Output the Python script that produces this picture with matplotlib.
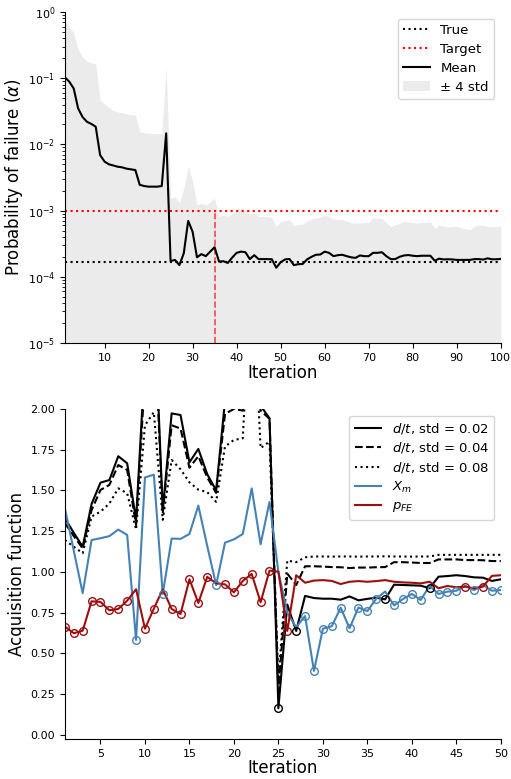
import numpy as np
import matplotlib
matplotlib.use("Agg")
import matplotlib.pyplot as plt

# ---- top panel data (probability of failure) ----
pf_true = 1.7e-4
pf_target = 1e-3
target_iter = 35
pf_mean = [0.103, 0.0885, 0.070, 0.035, 0.026, 0.022, 0.0204, 0.0185, 0.0069, 0.0055,
           0.005, 0.0048, 0.0046, 0.0045, 0.0043, 0.0042, 0.0041, 0.00245, 0.00235, 0.0023,
           0.0023, 0.0023, 0.00235, 0.0147, 1.73e-4, 1.8e-4, 1.5e-4, 2.26e-4, 7.0e-4, 4.8e-4,
           1.97e-4, 2.2e-4, 2.05e-4, 2.4e-4, 2.8e-4, 1.7e-4, 1.72e-4, 1.62e-4, 1.95e-4, 2.3e-4,
           2.4e-4, 2.35e-4, 1.85e-4, 2.12e-4, 1.85e-4, 1.85e-4, 1.85e-4, 1.84e-4, 1.37e-4, 1.66e-4,
           1.83e-4, 1.86e-4, 1.5e-4, 1.55e-4, 1.56e-4, 1.83e-4, 2.0e-4, 2.15e-4, 2.17e-4, 2.4e-4,
           2.3e-4, 2.05e-4, 2.12e-4, 2.15e-4, 2.05e-4, 1.97e-4, 1.93e-4, 2.1e-4, 2.05e-4, 2.05e-4,
           2.3e-4, 2.3e-4, 2.35e-4, 2.05e-4, 1.85e-4, 1.85e-4, 2.0e-4, 2.1e-4, 2.13e-4, 2.08e-4,
           2.05e-4, 2.08e-4, 2.08e-4, 2.08e-4, 1.75e-4, 1.88e-4, 1.83e-4, 1.84e-4, 1.83e-4, 1.8e-4,
           1.8e-4, 1.8e-4, 1.8e-4, 1.85e-4, 1.85e-4, 1.82e-4, 1.9e-4, 1.84e-4, 1.84e-4, 1.86e-4]
pf_upper = [0.76, 0.6, 0.48, 0.27, 0.21, 0.18, 0.17, 0.164, 0.047, 0.041,
            0.036, 0.032, 0.031, 0.030, 0.029, 0.028, 0.0278, 0.0156, 0.015, 0.0148,
            0.0146, 0.0145, 0.0145, 0.149, 1.53e-3, 1.62e-3, 1.3e-3, 2.17e-3, 4.7e-3, 2.75e-3,
            1.22e-3, 1.3e-3, 1.22e-3, 1.35e-3, 1.53e-3, 8.1e-4, 8.5e-4, 8.2e-4, 9e-4, 1.05e-3,
            1.08e-3, 1.0e-3, 8.8e-4, 9.3e-4, 8.1e-4, 8.1e-4, 8.1e-4, 7.8e-4, 5.7e-4, 6.9e-4,
            7.0e-4, 7.3e-4, 6.0e-4, 6.1e-4, 6.3e-4, 7.0e-4, 7.4e-4, 7.7e-4, 7.9e-4, 8.6e-4,
            8.1e-4, 7.4e-4, 7.4e-4, 7.3e-4, 7.0e-4, 6.6e-4, 6.4e-4, 6.5e-4, 6.6e-4, 6.6e-4,
            7.9e-4, 7.6e-4, 7.6e-4, 6.6e-4, 5.7e-4, 6.1e-4, 6.4e-4, 6.8e-4, 6.7e-4, 6.6e-4,
            6.5e-4, 6.6e-4, 6.6e-4, 6.8e-4, 5.4e-4, 6.0e-4, 5.8e-4, 5.6e-4, 5.8e-4, 5.8e-4,
            5.5e-4, 5.3e-4, 5.1e-4, 5.8e-4, 6.0e-4, 6.0e-4, 5.8e-4, 5.7e-4, 5.8e-4, 5.9e-4]
pf_lower = 1e-6  # band lower edge lies below the axis

# ---- bottom panel data (acquisition function) ----
acq_std02 = [1.33, 1.24, 1.155, 1.417, 1.548, 1.564, 1.71, 1.667, 1.32, 2.3,
             2.7, 1.38, 1.973, 1.963, 1.673, 1.755, 1.60, 1.50, 2.05, 2.3,
             2.5, 2.8, 2.02, 1.943, 0.164, 0.80, 0.638, 0.853, 0.84, 0.836,
             0.836, 0.83, 0.85, 0.826, 0.835, 0.842, 0.832, 0.922, 0.92, 0.918,
             0.916, 0.90, 0.971, 0.975, 0.98, 0.975, 0.967, 0.965, 0.945, 0.955]
acq_std04 = [1.30, 1.22, 1.145, 1.38, 1.503, 1.534, 1.656, 1.626, 1.288, 2.2,
             2.6, 1.36, 1.90, 1.88, 1.64, 1.71, 1.58, 1.485, 1.97, 2.0,
             1.99, 2.5, 1.99, 1.94, 0.27, 0.99, 0.92, 1.035, 1.035, 1.033,
             1.030, 1.029, 1.024, 1.027, 1.027, 1.029, 1.03, 1.06, 1.06, 1.058,
             1.055, 1.055, 1.077, 1.077, 1.077, 1.073, 1.073, 1.072, 1.067, 1.067]
acq_std08 = [1.196, 1.155, 1.115, 1.34, 1.37, 1.42, 1.513, 1.483, 1.26, 1.90,
             1.98, 1.32, 1.687, 1.63, 1.55, 1.505, 1.49, 1.43, 1.77, 1.81,
             1.82, 2.9, 1.76, 1.80, 0.34, 1.07, 1.06, 1.09, 1.095, 1.095,
             1.094, 1.095, 1.095, 1.094, 1.095, 1.095, 1.096, 1.095, 1.095, 1.094,
             1.095, 1.095, 1.105, 1.105, 1.105, 1.105, 1.105, 1.105, 1.105, 1.105]
acq_xm = [1.39, 1.13, 0.87, 1.196, 1.207, 1.22, 1.26, 1.227, 0.583, 1.58,
          1.597, 0.865, 1.205, 1.203, 1.233, 1.407, 1.16, 0.92, 1.18, 1.20,
          1.233, 1.513, 1.17, 1.43, 1.0, 0.75, 0.66, 0.73, 0.393, 0.652,
          0.667, 0.781, 0.655, 0.782, 0.76, 0.836, 0.88, 0.795, 0.834, 0.865,
          0.828, 0.915, 0.865, 0.879, 0.885, 0.915, 0.889, 0.92, 0.885, 0.889]
acq_pfe = [0.665, 0.624, 0.64, 0.82, 0.816, 0.765, 0.773, 0.824, 0.894, 0.652,
           0.775, 0.894, 0.773, 0.742, 0.955, 0.81, 0.97, 0.93, 0.924, 0.875,
           0.945, 0.988, 0.814, 1.008, 1.002, 0.638, 0.98, 0.934, 0.947, 0.95,
           0.945, 0.926, 0.94, 0.944, 0.94, 0.944, 0.95, 0.94, 0.936, 0.934,
           0.93, 0.94, 0.90, 0.914, 0.906, 0.91, 0.90, 0.91, 0.976, 0.98]

c_blue = "#4682b4"
c_red = "#9e0e0e"

fig = plt.figure(figsize=(5.11, 7.79), dpi=100)
ax1 = fig.add_axes([0.127, 0.5597, 0.853, 0.4249])
ax2 = fig.add_axes([0.127, 0.0513, 0.853, 0.4237])

# ---- top ----
it1 = np.arange(1, len(pf_mean) + 1)
band = ax1.fill_between(it1, pf_lower, pf_upper, color="#ebebeb", lw=0, label="\u00b1 4 std")
l_true = ax1.axhline(pf_true, color="black", ls=":", lw=1.5, label="True")
l_target = ax1.axhline(pf_target, color="red", ls=":", lw=1.5, label="Target")
ax1.plot([target_iter, target_iter], [1e-5, pf_target], color="red", alpha=0.7, ls="--", lw=1.2)
l_mean, = ax1.plot(it1, pf_mean, color="black", lw=1.5, label="Mean")
ax1.set_yscale("log")
ax1.set_xlim(1, 100)
ax1.set_ylim(1e-5, 1e0)
ax1.set_xticks(np.arange(10, 101, 10))
ax1.set_xlabel("Iteration", fontsize=12, labelpad=1)
ax1.set_ylabel(r"Probability of failure ($\alpha$)", fontsize=12, labelpad=2)
ax1.legend(handles=[l_true, l_target, l_mean, band], loc="upper right",
           fontsize=9.5, labelspacing=0.45)

# ---- bottom ----
it2 = np.arange(1, len(acq_std02) + 1)
ax2.plot(it2, acq_std02, color="black", lw=1.5, ls="-", label=r"$d/t$, std = 0.02")
ax2.plot(it2, acq_std04, color="black", lw=1.5, ls="--", label=r"$d/t$, std = 0.04")
ax2.plot(it2, acq_std08, color="black", lw=1.5, ls=":", label=r"$d/t$, std = 0.08")
ax2.plot(it2, acq_xm, color=c_blue, lw=1.5, label=r"$X_m$")
ax2.plot(it2, acq_pfe, color=c_red, lw=1.5, label=r"$p_{FE}$")

# open circle on the lowest of the three candidates at each iteration
cands = np.vstack([acq_std02, acq_xm, acq_pfe])
best = np.argmin(cands, axis=0)
for k, col in enumerate(["black", c_blue, c_red]):
    sel = best == k
    ax2.plot(it2[sel], cands[k][sel], "o", ls="none", mfc="none", mec=col, ms=5.5, mew=1.0)

ax2.set_xlim(1, 50)
ax2.set_ylim(-0.025, 2.0)
ax2.set_xticks(np.arange(5, 51, 5))
ax2.set_yticks(np.arange(0, 2.01, 0.25))
ax2.yaxis.set_major_formatter(matplotlib.ticker.FormatStrFormatter("%.2f"))
ax2.set_xlabel("Iteration", fontsize=12, labelpad=0)
ax2.set_ylabel("Acquisition function", fontsize=12, labelpad=3)
ax2.legend(loc="upper right", fontsize=9.5, labelspacing=0.35)

for ax in (ax1, ax2):
    ax.spines["top"].set_visible(False)
    ax.spines["right"].set_visible(False)
    ax.tick_params(labelsize=8)

fig.savefig("out.png", dpi=100)
